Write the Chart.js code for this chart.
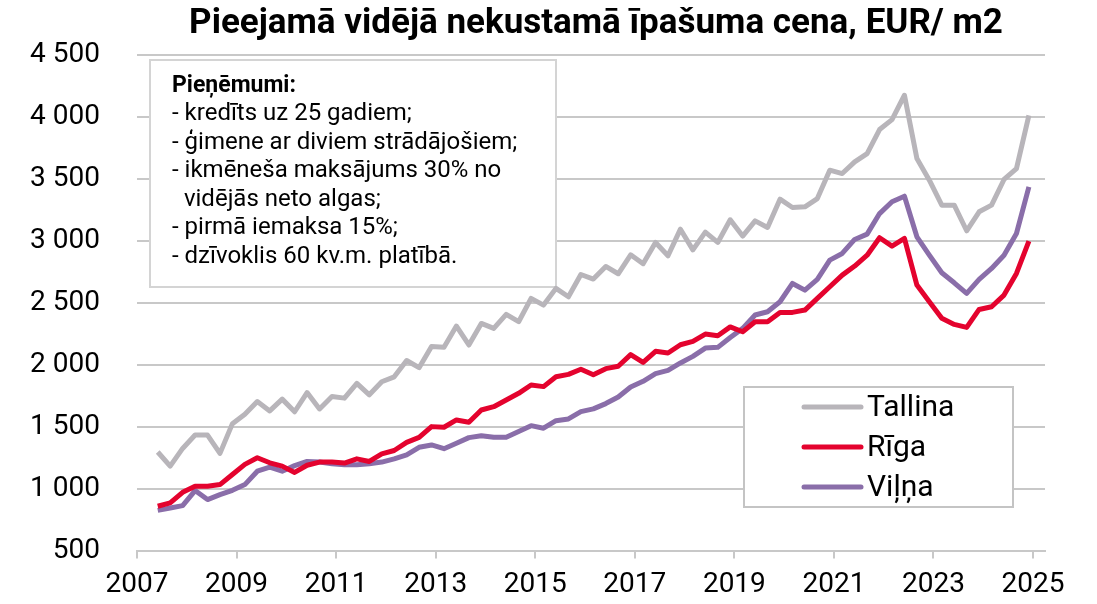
<!DOCTYPE html>
<html>
<head>
<meta charset="utf-8">
<script src="https://cdn.jsdelivr.net/npm/chart.js@4.4.1/dist/chart.umd.min.js"></script>
<style>
    html, body { margin: 0; padding: 0; background: #fff; }
    #wrap { width: 1097px; height: 604px; position: relative; }
</style>
</head>
<body>
<div id="wrap"><canvas id="chart"></canvas></div>
<script>
// Quarterly observations, first one June 2007, last one December 2024
const firstYear = 2007;
const firstMonth = 6;
const quarterCount = 71;

const tallina = [
    1295, 1181, 1324, 1432, 1432, 1284, 1524, 1600, 1703, 1627, 1722, 1620,
    1775, 1643, 1743, 1730, 1849, 1757, 1862, 1902, 2034, 1976, 2146, 2140,
    2312, 2159, 2333, 2293, 2406, 2347, 2535, 2481, 2616, 2548, 2728, 2691,
    2793, 2734, 2887, 2815, 2987, 2879, 3094, 2927, 3070, 2987, 3170, 3038,
    3161, 3108, 3336, 3269, 3274, 3341, 3570, 3543, 3637, 3704, 3898, 3978,
    4175, 3664, 3489, 3288, 3288, 3081, 3234, 3288, 3495, 3583, 4013
];

const riga = [
    857, 884, 970, 1019, 1019, 1032, 1113, 1195, 1249, 1208, 1181, 1130,
    1188, 1214, 1214, 1206, 1240, 1219, 1280, 1307, 1373, 1413, 1500, 1495,
    1554, 1535, 1634, 1661, 1715, 1769, 1836, 1823, 1903, 1922, 1963, 1919,
    1968, 1987, 2081, 2019, 2108, 2094, 2161, 2188, 2247, 2234, 2305, 2266,
    2347, 2347, 2422, 2422, 2441, 2535, 2629, 2723, 2796, 2884, 3025, 2957,
    3019, 2643, 2509, 2374, 2325, 2301, 2446, 2468, 2562, 2737, 2997
];

const vilna = [
    824, 843, 862, 984, 911, 951, 986, 1032, 1140, 1173, 1140, 1185,
    1219, 1214, 1201, 1193, 1193, 1201, 1214, 1240, 1272, 1333, 1352, 1322,
    1366, 1411, 1427, 1414, 1414, 1460, 1508, 1487, 1548, 1562, 1621, 1643,
    1686, 1739, 1820, 1866, 1928, 1954, 2014, 2067, 2134, 2140, 2220, 2293,
    2401, 2427, 2508, 2656, 2602, 2688, 2844, 2898, 3011, 3054, 3220, 3315,
    3360, 3032, 2884, 2742, 2661, 2575, 2688, 2777, 2884, 3059, 3436
];

const seriesNames = ['Tallina', 'Rīga', 'Viļņa'];
const seriesColors = ['#b8b5ba', '#e4032e', '#8a6ea9'];

const xTickYears = [2007, 2009, 2011, 2013, 2015, 2017, 2019, 2021, 2023, 2025];

const titleText = 'Pieejamā vidējā nekustamā īpašuma cena, EUR/ m2';
const noteTitle = 'Pieņēmumi:';
const noteLines = [
    '- kredīts uz 25 gadiem;',
    '- ģimene ar diviem strādājošiem;',
    '- ikmēneša maksājums 30% no',
    '  vidējās neto algas;',
    '- pirmā iemaksa 15%;',
    '- dzīvoklis 60 kv.m. platībā.'
];

// Decimal year of each quarter
const quarterPositions = [];
for (let i = 0; i < quarterCount; i++) {
    const m = firstMonth - 1 + i * 3;
    quarterPositions.push(firstYear + Math.floor(m / 12) + (m % 12) / 12);
}

function toPoints(values) {
    return values.map((v, i) => ({ x: quarterPositions[i], y: v }));
}

function formatThousands(v) {
    return String(v).replace(/\B(?=(\d{3})+(?!\d))/g, ' ');
}

const FONT = 'Roboto, "Liberation Sans", sans-serif';

// Title, note box and legend drawn on the canvas
const decorations = {
    id: 'decorations',
    beforeDatasetsDraw(chart) {
        const ctx = chart.ctx;
        ctx.save();
        // note box
        ctx.fillStyle = '#fff';
        ctx.fillRect(150, 60, 406, 227);
        ctx.strokeStyle = '#d4d4d4';
        ctx.lineWidth = 2;
        ctx.strokeRect(150, 60, 406, 227);
        ctx.fillStyle = '#000';
        ctx.textBaseline = 'middle';
        ctx.textAlign = 'left';
        ctx.font = 'bold 23px ' + FONT;
        ctx.fillText(noteTitle, 172, 86);
        ctx.font = '24px ' + FONT;
        noteLines.forEach((line, i) => {
            ctx.fillText(line, 172, 114 + i * 28.5);
        });

        // legend box
        ctx.fillStyle = '#fff';
        ctx.fillRect(744, 387, 269, 120);
        ctx.strokeStyle = '#c4c4c4';
        ctx.strokeRect(744, 387, 269, 120);
        ctx.restore();
    },
    afterDatasetsDraw(chart) {
        const ctx = chart.ctx;
        ctx.save();
        ctx.lineCap = 'round';
        ctx.textBaseline = 'middle';
        ctx.textAlign = 'left';
        ctx.font = '30px ' + FONT;
        chart.data.datasets.forEach((ds, i) => {
            const y = 407 + i * 40;
            ctx.strokeStyle = ds.borderColor;
            ctx.lineWidth = 5;
            ctx.beginPath();
            ctx.moveTo(804, y);
            ctx.lineTo(861, y);
            ctx.stroke();
            ctx.fillStyle = '#000';
            ctx.fillText(ds.label, 867, y + 1);
        });

        // title
        ctx.font = 'bold 35px ' + FONT;
        ctx.textAlign = 'center';
        ctx.fillText(titleText, 596, 24);
        ctx.restore();
    }
};

const canvas = document.getElementById('chart');

new Chart(canvas, {
    type: 'line',
    data: {
        datasets: [
            { label: seriesNames[0], data: toPoints(tallina), borderColor: seriesColors[0] },
            { label: seriesNames[1], data: toPoints(riga), borderColor: seriesColors[1] },
            { label: seriesNames[2], data: toPoints(vilna), borderColor: seriesColors[2] }
        ].map(ds => ({ ...ds, borderWidth: 5, pointRadius: 0, tension: 0, fill: false, borderJoinStyle: 'round' }))
    },
    options: {
        responsive: true,
        maintainAspectRatio: false,
        animation: false,
        layout: {
            padding: { top: 55, right: 52, bottom: 0, left: 0 }
        },
        plugins: {
            legend: { display: false },
            title: { display: false },
            tooltip: { enabled: false }
        },
        scales: {
            x: {
                type: 'linear',
                min: 2007,
                max: 2025.24,
                afterBuildTicks: (scale) => {
                    scale.ticks = xTickYears.map(v => ({ value: v }));
                },
                afterFit: (scale) => {
                    scale.height = 53.5;
                    scale.paddingLeft = 0;
                    scale.paddingRight = 0;
                },
                grid: {
                    drawOnChartArea: false,
                    drawTicks: true,
                    tickLength: 8,
                    color: '#c8c8c8',
                    lineWidth: 2
                },
                border: { display: true, color: '#c8c8c8', width: 2 },
                ticks: {
                    autoSkip: false,
                    maxRotation: 0,
                    padding: 10,
                    color: '#000',
                    font: { family: FONT, size: 28 },
                    callback: (v) => String(v)
                }
            },
            y: {
                min: 500,
                max: 4500,
                afterFit: (scale) => {
                    scale.width = 137;
                    scale.paddingTop = 0;
                    scale.paddingBottom = 0;
                },
                grid: {
                    drawTicks: false,
                    color: '#c8c8c8',
                    lineWidth: 2
                },
                border: { display: false },
                ticks: {
                    stepSize: 500,
                    padding: 37,
                    color: '#000',
                    font: { family: FONT, size: 28 },
                    callback: (v) => formatThousands(v)
                }
            }
        }
    },
    plugins: [decorations]
});
</script>
</body>
</html>
